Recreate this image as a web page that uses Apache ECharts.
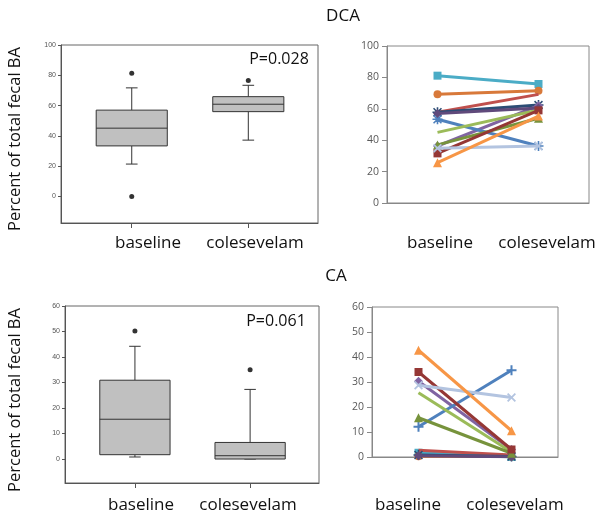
<!DOCTYPE html>
<html>
<head>
<meta charset="utf-8">
<script src="https://cdn.jsdelivr.net/npm/echarts@6/dist/echarts.min.js"></script>
<style>
html,body{margin:0;padding:0;background:#fff;}
#chart{width:602px;height:519px;}
</style>
</head>
<body>
<div id="chart"></div>
<script>
// ---------- DATA ----------
const categories = ['baseline', 'colesevelam'];
const dcaTicks = [0, 20, 40, 60, 80, 100];
const caTicks = [0, 10, 20, 30, 40, 50, 60];

// box stats: [lower whisker, Q1, median, Q3, upper whisker]
const dcaBaselineBox = [21.4, 33.4, 45.1, 57.0, 71.7];
const dcaColesevelamBox = [37.2, 56.0, 60.9, 65.9, 73.4];
const dcaBaselineOutliers = [81.3, 0];
const dcaColesevelamOutliers = [76.5];

const caBaselineBox = [0.8, 1.7, 15.6, 30.9, 44.2];
const caColesevelamBox = [0, 0, 1.3, 6.5, 27.3];
const caBaselineOutliers = [50.2];
const caColesevelamOutliers = [35.0];

// individual subjects (same order in every array)
const dcaBaseline    = [81.1, 69.2, 57.8, 57.8, 36.3, 53.3, 45.0, 57.0, 37.0, 31.6, 34.8, 25.7];
const dcaColesevelam = [75.8, 71.5, 69.2, 62.4, 62.0, 36.3, 59.2, 60.5, 54.0, 59.0, 36.3, 55.4];
const caBaseline     = [1.7, 0.3, 2.7, 0.8, 30.3, 12.1, 25.7, 0.5, 15.7, 34.0, 28.7, 42.7];
const caColesevelam  = [0.0, 0.2, 0.8, 0.2, 3.0, 34.7, 2.0, 0.1, 1.5, 3.0, 23.8, 10.5];

const pTextDCA = 'P=0.028';
const pTextCA = 'P=0.061';

// ---------- STYLES ----------
const PLUS = 'path://M4,0H6V4H10V6H6V10H4V6H0V4H4Z';
const XMARK = 'path://M0,1.4L1.4,0L5,3.6L8.6,0L10,1.4L6.4,5L10,8.6L8.6,10L5,6.4L1.4,10L0,8.6L3.6,5Z';
const STAR = 'path://M4.2,0H5.8V4.2H10V5.8H5.8V10H4.2V5.8H0V4.2H4.2Z M0.5,1.6L1.6,0.5L5,3.9L8.4,0.5L9.5,1.6L6.1,5L9.5,8.4L8.4,9.5L5,6.1L1.6,9.5L0.5,8.4L3.9,5Z';
const subjStyles = [
  {color:'#4BACC6', symbol:'rect', size:8},
  {color:'#D8793A', symbol:'circle', size:8},
  {color:'#C0504D', symbol:'none', size:6},
  {color:'#2C4D75', symbol:STAR, size:10},
  {color:'#8064A2', symbol:'diamond', size:9},
  {color:'#4F81BD', symbol:STAR, size:10},
  {color:'#9BBB59', symbol:'none', size:6},
  {color:'#604A7B', symbol:'diamond', size:9},
  {color:'#77933C', symbol:'triangle', size:9},
  {color:'#953735', symbol:'rect', size:8},
  {color:'#B3C4E0', symbol:XMARK, size:9},
  {color:'#F79646', symbol:'triangle', size:9}
];
const caSymbolsOverride = {5: PLUS};

const BOX_W = 0.61, CAP_W = 0.1;
const FONT = '"Open Sans", Lato, sans-serif';

function renderBox(params, api) {
  const x = api.value(0);
  const pLow = api.coord([x, api.value(1)]);
  const pQ1 = api.coord([x, api.value(2)]);
  const pMed = api.coord([x, api.value(3)]);
  const pQ3 = api.coord([x, api.value(4)]);
  const pHigh = api.coord([x, api.value(5)]);
  const hw = api.size([BOX_W, 0])[0] / 2;
  const cw = api.size([CAP_W, 0])[0] / 2;
  const ls = {stroke:'#333', lineWidth:1, fill:null};
  return {type:'group', children:[
    {type:'line', shape:{x1:pQ3[0], y1:pQ3[1], x2:pHigh[0], y2:pHigh[1]}, style:ls},
    {type:'line', shape:{x1:pHigh[0]-cw, y1:pHigh[1], x2:pHigh[0]+cw, y2:pHigh[1]}, style:ls},
    {type:'line', shape:{x1:pQ1[0], y1:pQ1[1], x2:pLow[0], y2:pLow[1]}, style:ls},
    {type:'line', shape:{x1:pLow[0]-cw, y1:pLow[1], x2:pLow[0]+cw, y2:pLow[1]}, style:ls},
    {type:'rect', shape:{x:pQ3[0]-hw, y:pQ3[1], width:2*hw, height:pQ1[1]-pQ3[1]}, style:{fill:'#C0C0C0', stroke:'#333', lineWidth:1}},
    {type:'line', shape:{x1:pMed[0]-hw, y1:pMed[1], x2:pMed[0]+hw, y2:pMed[1]}, style:ls}
  ]};
}

const grids = [
  {left:61, top:45, width:257, height:178, show:true, borderColor:'#666', borderWidth:1},
  {left:387, top:46, width:202, height:157, show:true, borderColor:'#888', borderWidth:1},
  {left:65, top:306, width:254, height:177, show:true, borderColor:'#666', borderWidth:1},
  {left:372, top:307, width:186, height:150, show:true, borderColor:'#888', borderWidth:1}
];

function boxXAxis(gi) {
  return {gridIndex:gi, type:'value', min:-0.607, max:1.598,
    axisLine:{show:true, onZero:false, lineStyle:{color:'#555'}},
    axisTick:{show:true, customValues:[0,1], length:5, inside:false, lineStyle:{color:'#555'}},
    axisLabel:{show:false}, splitLine:{show:false}};
}
function boxYAxis(gi, min, max, ticks) {
  return {gridIndex:gi, type:'value', min:min, max:max,
    axisLine:{show:true, onZero:false, lineStyle:{color:'#555'}},
    axisTick:{show:true, customValues:ticks, length:3, lineStyle:{color:'#555'}},
    axisLabel:{show:true, customValues:ticks, fontSize:7, color:'#555', margin:5, fontFamily:'"Liberation Sans", Arial, sans-serif'},
    splitLine:{show:false}};
}
function lineXAxis(gi) {
  return {gridIndex:gi, type:'category', data:categories, boundaryGap:true,
    axisLine:{show:true, onZero:false, lineStyle:{color:'#888'}}, axisTick:{show:false},
    axisLabel:{show:false}, splitLine:{show:false}};
}
function lineYAxis(gi, max, interval) {
  return {gridIndex:gi, type:'value', min:0, max:max, interval:interval,
    axisLine:{show:true, lineStyle:{color:'#888'}},
    axisTick:{show:true, length:5, lineStyle:{color:'#888'}},
    axisLabel:{fontSize:10.5, color:'#595959', margin:8, fontFamily:FONT},
    splitLine:{show:false}};
}

const series = [];
series.push({type:'custom', xAxisIndex:0, yAxisIndex:0, renderItem:renderBox,
  data:[[0].concat(dcaBaselineBox), [1].concat(dcaColesevelamBox)], z:2});
series.push({type:'scatter', xAxisIndex:0, yAxisIndex:0, symbol:'circle', symbolSize:5,
  itemStyle:{color:'#000'},
  data:dcaBaselineOutliers.map(v=>[0,v]).concat(dcaColesevelamOutliers.map(v=>[1,v])), z:3});
series.push({type:'custom', xAxisIndex:2, yAxisIndex:2, renderItem:renderBox,
  data:[[0].concat(caBaselineBox), [1].concat(caColesevelamBox)], z:2});
series.push({type:'scatter', xAxisIndex:2, yAxisIndex:2, symbol:'circle', symbolSize:5,
  itemStyle:{color:'#000'},
  data:caBaselineOutliers.map(v=>[0,v]).concat(caColesevelamOutliers.map(v=>[1,v])), z:3});

subjStyles.forEach((s, i) => {
  series.push({type:'line', xAxisIndex:1, yAxisIndex:1, data:[dcaBaseline[i], dcaColesevelam[i]],
    symbol:s.symbol, symbolSize:s.size, showSymbol:s.symbol!=='none',
    lineStyle:{color:s.color, width:3}, itemStyle:{color:s.color}, z:10+i, animation:false});
  const cs = caSymbolsOverride[i] || s.symbol;
  series.push({type:'line', xAxisIndex:3, yAxisIndex:3, data:[caBaseline[i], caColesevelam[i]],
    symbol:cs, symbolSize:s.size, showSymbol:cs!=='none',
    lineStyle:{color:s.color, width:3}, itemStyle:{color:s.color}, z:10+i, animation:false});
});

function txt(text, x, y, size, extra) {
  return Object.assign({type:'text', x:x, y:y, z:100,
    style:{text:text, fontSize:size, fontFamily:FONT, fill:'#111',
      align:'center', verticalAlign:'middle', textAlign:'center', textVerticalAlign:'middle'}}, extra || {});
}

const graphic = [
  txt('DCA', 343, 16, 17),
  txt('CA', 336, 276, 17),
  txt(pTextDCA, 279, 59, 16),
  txt(pTextCA, 276, 321, 16),
  txt('Percent of total fecal BA', 15, 139, 16.5, {rotation:Math.PI/2}),
  txt('Percent of total fecal BA', 15, 400, 16.5, {rotation:Math.PI/2}),
  txt(categories[0], 148, 243, 17), txt(categories[1], 255, 243, 17),
  txt(categories[0], 440, 243, 17), txt(categories[1], 547, 243, 17),
  txt(categories[0], 141, 505, 17), txt(categories[1], 248, 505, 17),
  txt(categories[0], 408, 505, 17), txt(categories[1], 515, 505, 17)
];

const chart = echarts.init(document.getElementById('chart'), null, {renderer:'canvas'});
chart.setOption({
  animation:false,
  backgroundColor:'#fff',
  grid:grids,
  xAxis:[boxXAxis(0), lineXAxis(1), boxXAxis(2), lineXAxis(3)],
  yAxis:[boxYAxis(0, -17.5, 100, dcaTicks), lineYAxis(1, 100, 20),
         boxYAxis(2, -9.4, 60, caTicks), lineYAxis(3, 60, 10)],
  series:series,
  graphic:graphic
});
</script>
</body>
</html>
